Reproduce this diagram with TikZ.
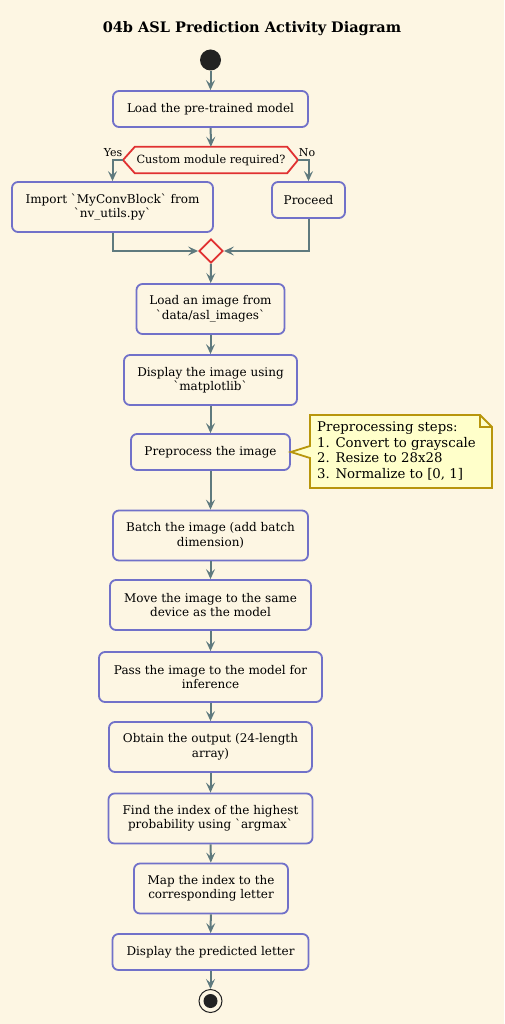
\documentclass[tikz,border=0pt]{standalone}
\usepackage{fontspec}
\setmainfont{DejaVu Serif}[Ligatures=TeXOff]
\usetikzlibrary{arrows.meta,shapes.geometric}
\definecolor{bg}{HTML}{FDF6E3}
\definecolor{boxc}{HTML}{7171C9}
\definecolor{arrc}{HTML}{5F7A7E}
\definecolor{decc}{HTML}{E03131}
\definecolor{notef}{HTML}{FFFFCA}
\definecolor{notec}{HTML}{B8960C}
\definecolor{dotc}{HTML}{222222}
\tikzset{
  act/.style={draw=boxc, line width=1.8pt, rounded corners=6pt, fill=bg, align=center,
    font=\fontsize{12}{14.5}\selectfont, inner sep=0pt},
  flow/.style={draw=arrc, line width=2pt, -{Stealth[length=10pt,width=9pt,inset=4pt]}},
  lbl/.style={font=\fontsize{11}{12}\selectfont, inner sep=0pt},
}
\begin{document}
\begin{tikzpicture}[x=1pt,y=-1pt]
\fill[bg] (0,0) rectangle (504,1024);
\useasboundingbox (0,0) rectangle (504,1024);
\node[font=\bfseries\fontsize{14.5}{16}\selectfont] (title) at (252,29) {04b ASL Prediction Activity Diagram};
\node[circle, fill=dotc, minimum size=21, inner sep=0pt] (start) at (210.5,60) {};
\node[act, minimum width=195, minimum height=36] (n1) at (210.5,109) {Load the pre-trained model};
% decision
\node[minimum width=152, minimum height=26, inner sep=0pt, font=\fontsize{11.3}{12}\selectfont] (dec) at (211,160) {Custom module required?};
\coordinate (decL) at (123,160);
\coordinate (decR) at (298,160);
\draw[decc, line width=1.8pt] (decL) -- (dec.north west) -- (dec.north east) -- (decR) -- (dec.south east) -- (dec.south west) -- cycle;
\node[act, minimum width=201, minimum height=50] (imp) at (112.5,207) {Import `MyConvBlock` from\\`nv\_utils.py`};
\node[act, minimum width=73, minimum height=36] (proc) at (308.5,200) {Proceed};
\node[diamond, draw=decc, line width=1.8pt, fill=bg, minimum width=24, minimum height=24, inner sep=0pt] (merge) at (211,251) {};
\node[act, minimum width=148, minimum height=50] (n4) at (210.5,309) {Load an image from\\`data/asl\_images`};
\node[act, minimum width=173, minimum height=50] (n5) at (210.5,380) {Display the image using\\`matplotlib`};
\node[act, minimum width=159, minimum height=36] (pre) at (210.5,452) {Preprocess the image};
\node[act, minimum width=195, minimum height=50] (batch) at (210.5,535.5) {Batch the image (add batch\\dimension)};
\node[act, minimum width=201, minimum height=50] (move) at (210.5,605) {Move the image to the same\\device as the model};
\node[act, minimum width=223, minimum height=50] (pass) at (210.5,677) {Pass the image to the model for\\inference};
\node[act, minimum width=203, minimum height=50] (obt) at (210.5,747) {Obtain the output (24-length\\array)};
\node[act, minimum width=204, minimum height=50] (find) at (210.5,818.5) {Find the index of the highest\\probability using `argmax`};
\node[act, minimum width=154, minimum height=50] (map) at (211,888.5) {Map the index to the\\corresponding letter};
\node[act, minimum width=196, minimum height=36] (disp) at (210.5,952) {Display the predicted letter};
\node[circle, draw=dotc, line width=1pt, fill=bg, minimum size=23, inner sep=0pt] (end) at (210.5,1001) {};
\node[circle, fill=dotc, minimum size=14, inner sep=0pt] (endin) at (end) {};
% note
\draw[notec, line width=1.8pt, fill=notef] (310,415) -- (480,415) -- (492,427) -- (492,488) -- (310,488) -- (310,458) -- (pre.east) -- (310,446) -- cycle;
\draw[notec, line width=1.8pt] (480,415) -- (480,427) -- (492,427);
\node[anchor=north west, align=left, inner sep=0pt, font=\fontsize{13.3}{15.5}\selectfont] (note) at (317,422) {Preprocessing steps:\\1. Convert to grayscale\\2. Resize to 28x28\\3. Normalize to [0, 1]};
% labels
\node[lbl] (yes) at (113,153) {Yes};
\node[lbl] (no) at (307,153) {No};
% connectors
\draw[flow] (start) -- (n1);
\draw[flow] (n1) -- (dec);
\draw[flow] (decL) -| (imp);
\draw[flow] (decR) -| (proc);
\draw[flow] (imp) |- (merge);
\draw[flow] (proc) |- (merge);
\draw[flow] (merge) -- (n4);
\draw[flow] (n4) -- (n5);
\draw[flow] (n5) -- (pre);
\draw[flow] (pre) -- (batch);
\draw[flow] (batch) -- (move);
\draw[flow] (move) -- (pass);
\draw[flow] (pass) -- (obt);
\draw[flow] (obt) -- (find);
\draw[flow] (find) -- (map);
\draw[flow] (map) -- (disp);
\draw[flow] (disp) -- (end);
\end{tikzpicture}
\end{document}
